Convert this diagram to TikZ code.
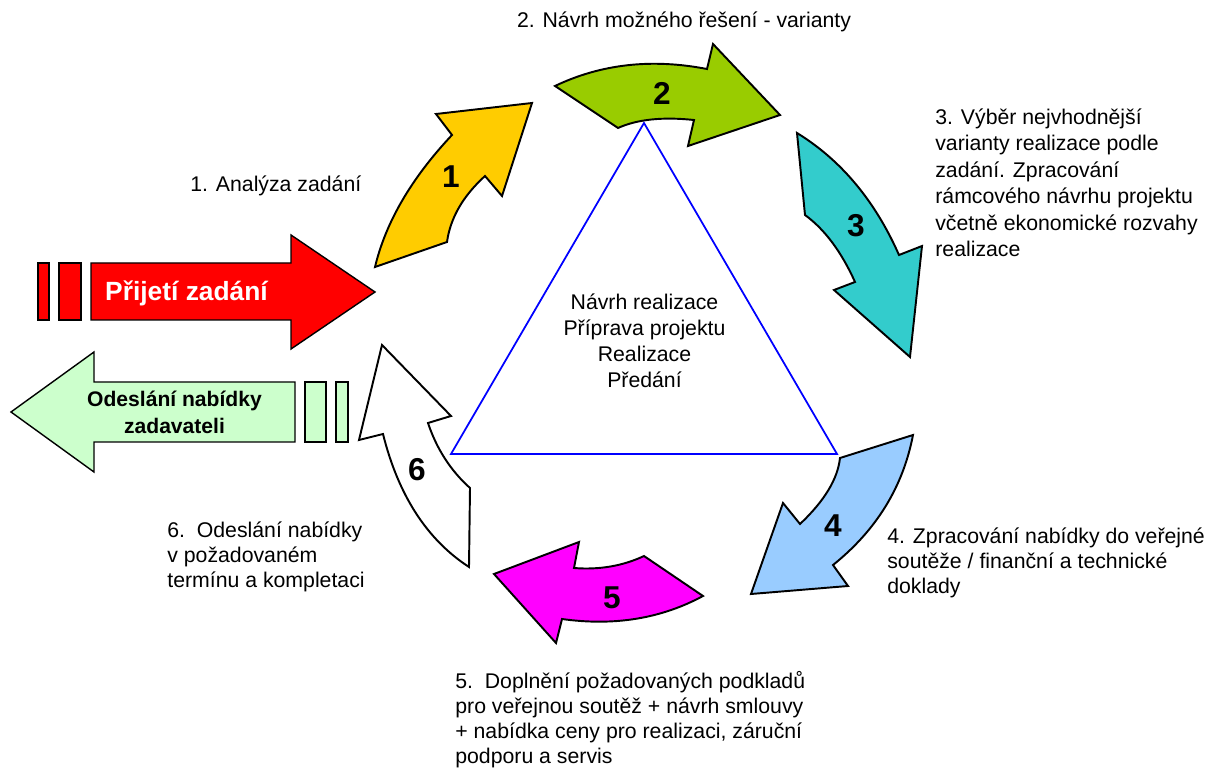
\documentclass[tikz,border=0pt]{standalone}
\usepackage{fontspec}
\setmainfont{Liberation Sans}
\definecolor{cA}{HTML}{FFCC00}
\definecolor{cB}{HTML}{99CC00}
\definecolor{cC}{HTML}{33CCCC}
\definecolor{cD}{HTML}{99CCFF}
\definecolor{cE}{HTML}{FF00FF}
\definecolor{cIn}{HTML}{FF0000}
\definecolor{cOut}{HTML}{CCFFCC}
\definecolor{cTri}{HTML}{0000FF}
\begin{document}
\begin{tikzpicture}[x=0.02cm,y=-0.02cm,
  shp/.style={draw=black,line width=1.1pt,line join=miter},
  thin shp/.style={draw=black,line width=0.8pt,line join=miter},
  lbl/.style={font=\fontsize{12.1}{14.3}\selectfont,inner sep=0pt,align=left},
  num/.style={font=\fontsize{18}{18}\selectfont\bfseries,inner sep=0pt}]
\useasboundingbox (0,0) rectangle (1208,773);
% triangle
\draw[cTri,line width=1pt,line join=miter] (644,123) -- (837,454) -- (451,454) -- cycle;
% arrow 1
\draw[shp,fill=cA] (375,267) .. controls (385.7,222.3) and (411.3,178.3) .. (452,135) -- (436,114) -- (532,103) -- (502,196) -- (485,176)
  .. controls (463,196) and (450.3,218) .. (447,242) -- cycle;
% arrow 2
\draw[shp,fill=cB] (555,86) .. controls (601,64) and (651.7,58.3) .. (707,69) -- (713,44) -- (780,115) -- (688,146) -- (694,120)
  .. controls (662.7,116.7) and (637.3,119.3) .. (618,128) -- cycle;
% arrow 3
\draw[shp,fill=cC] (797,133) .. controls (841,160) and (875,200.7) .. (899,255) -- (922,246) -- (910,357) -- (834,290) -- (855,282)
  .. controls (841.3,251.6) and (824.6,229.3) .. (805,215) -- cycle;
% arrow 4
\draw[shp,fill=cD] (913,435) .. controls (903,487) and (876.3,530.3) .. (833,565) -- (848,586) -- (751,594) -- (783,503) -- (800,524)
  .. controls (824.3,501.1) and (837.7,479.1) .. (840,458) -- cycle;
% arrow 5
\draw[shp,fill=cE] (703,596) .. controls (661,618.7) and (614,626.3) .. (562,619) -- (556,643) -- (494,574) -- (579,542) -- (574,568)
  .. controls (599.3,570) and (622.7,566) .. (644,556) -- cycle;
% arrow 6
\draw[shp,fill=white] (469,567) .. controls (427,539.7) and (398.3,495.3) .. (383,434) -- (359,440) -- (382,345) -- (451,416) -- (428,423)
  .. controls (436.7,449) and (450.7,470.7) .. (470,488) -- cycle;
% incoming arrow
\draw[thin shp,fill=cIn] (38,263) rectangle (49,320);
\draw[thin shp,fill=cIn] (59,263) rectangle (81,320);
\draw[thin shp,fill=cIn] (91,263) -- (291,263) -- (291,235) -- (375,292) -- (291,349) -- (291,320) -- (91,320) -- cycle;
% outgoing arrow
\draw[thin shp,fill=cOut] (11,412) -- (94,352) -- (94,382) -- (295,382) -- (295,442) -- (94,442) -- (94,472) -- cycle;
\draw[thin shp,fill=cOut] (305,382) rectangle (326,442);
\draw[thin shp,fill=cOut] (336,382) rectangle (348,442);
% numbers
\node[num] (n1) at (451,177) {1};
\node[num] (n2) at (662,93) {2};
\node[num] (n3) at (856,226) {3};
\node[num] (n4) at (833,526) {4};
\node[num] (n5) at (612,598) {5};
\node[num] (n6) at (417,470) {6};
% labels (base anchor = baseline of the last line)
\node[inner sep=0pt,font=\fontsize{15}{15}\selectfont\bfseries,text=white,anchor=base] (inlbl) at (186.5,301) {Přijetí zadání};
\node[inner sep=0pt,font=\fontsize{12}{15.1}\selectfont\bfseries,align=center,anchor=base] (outlbl) at (174.5,433.3) {Odeslání nabídky\\zadavateli};
\node[lbl,font=\fontsize{12.1}{14.9}\selectfont,align=center,anchor=base] (center) at (644.5,388) {Návrh realizace\\Příprava projektu\\Realizace\\Předání};
\node[lbl,anchor=base] (t2) at (684,28) {2. Návrh možného řešení - varianty};
\node[lbl,anchor=base west] (t1) at (190,192) {1. Analýza zadání};
\node[lbl,font=\fontsize{12.1}{15.1}\selectfont,anchor=base west] (t3) at (935,256.8) {3. Výběr nejvhodnější\\varianty realizace podle\\zadání. Zpracování\\rámcového návrhu projektu\\včetně ekonomické rozvahy\\realizace};
\node[lbl,anchor=base west] (t4) at (887,593.3) {4. Zpracování nabídky do veřejné\\soutěže / finanční a technické\\doklady};
\node[lbl,anchor=base west] (t5) at (455,764) {5.\ \ Doplnění požadovaných podkladů\\pro veřejnou soutěž + návrh smlouvy\\+ nabídka ceny pro realizaci, záruční\\podporu a servis};
\node[lbl,anchor=base west] (t6) at (167,587.3) {6.\ \ Odeslání nabídky\\v požadovaném\\termínu a kompletaci};
\end{tikzpicture}
\end{document}
